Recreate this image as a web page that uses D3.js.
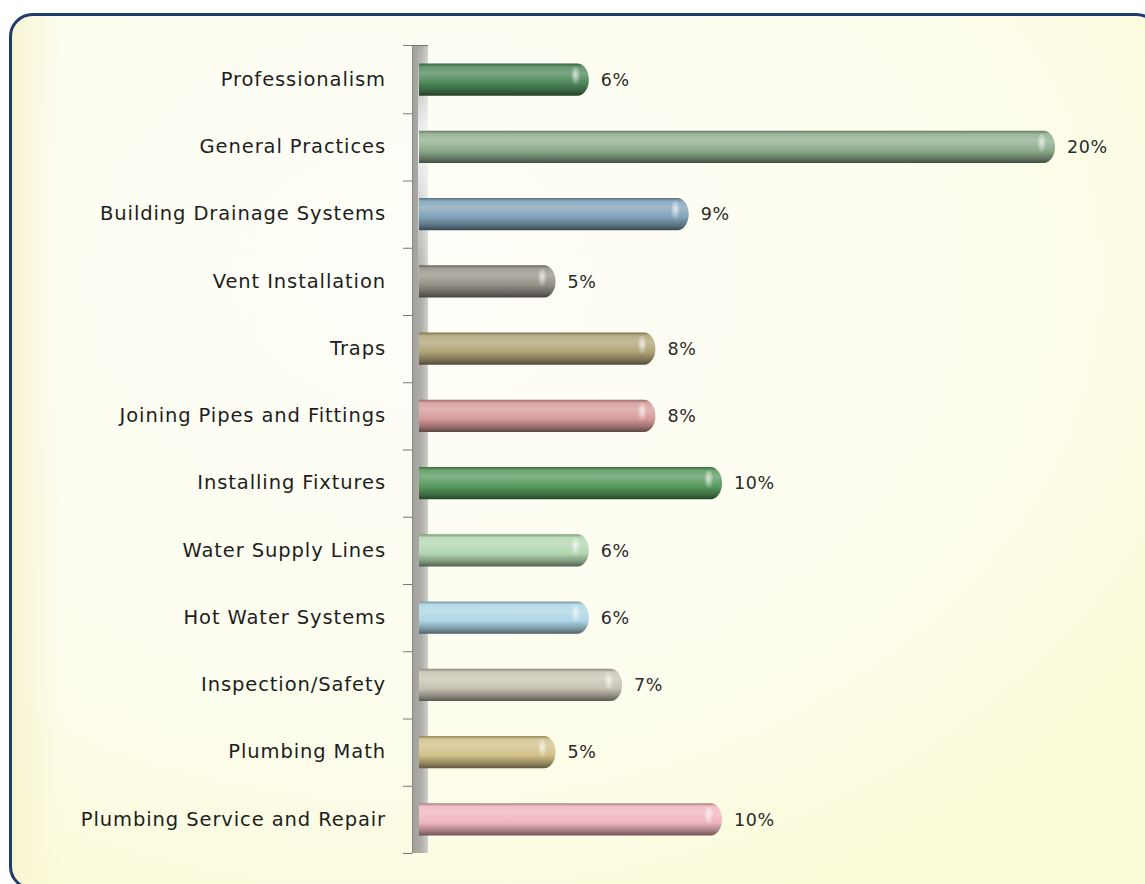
<!DOCTYPE html>
<html><head><meta charset="utf-8">
<script src="https://cdn.jsdelivr.net/npm/d3@7"></script>
<style>html,body{margin:0;padding:0;background:#fff;}svg{display:block;}</style>
</head><body>
<script>
const categories = ["Professionalism","General Practices","Building Drainage Systems","Vent Installation","Traps","Joining Pipes and Fittings","Installing Fixtures","Water Supply Lines","Hot Water Systems","Inspection/Safety","Plumbing Math","Plumbing Service and Repair"];
const values = [6,20,9,5,8,8,10,6,6,7,5,10];
const valueLabels = ["6%","20%","9%","5%","8%","8%","10%","6%","6%","7%","5%","10%"];
const barColors = ["#4f8a5a","#8fae8e","#7fa2b8","#959287","#b0a478","#d69a9a","#589a5e","#b2d6b0","#aed6e6","#c8c4b4","#d2c088","#f0b6be"];

const W = 1145, H = 884;
const svg = d3.select("body").append("svg").attr("width", W).attr("height", H);
const defs = svg.append("defs");

// background
const bg = defs.append("radialGradient").attr("id","bg").attr("cx","0.35").attr("cy","0.3").attr("r","0.85");
bg.append("stop").attr("offset","0").attr("stop-color","#fefef9");
bg.append("stop").attr("offset","0.6").attr("stop-color","#fdfdee");
bg.append("stop").attr("offset","1").attr("stop-color","#fafad4");
const lg = defs.append("linearGradient").attr("id","leftband").attr("x1","0").attr("x2","1");
lg.append("stop").attr("offset","0").attr("stop-color","#f7f4d2").attr("stop-opacity",1);
lg.append("stop").attr("offset","1").attr("stop-color","#f7f4d2").attr("stop-opacity",0);
defs.append("clipPath").attr("id","frameClip").append("rect")
  .attr("x",10.5).attr("y",14.5).attr("width",1148).attr("height",874).attr("rx",22);

svg.append("rect").attr("x",10.5).attr("y",14.5).attr("width",1148).attr("height",874)
  .attr("rx",22).attr("fill","url(#bg)");
svg.append("rect").attr("clip-path","url(#frameClip)").attr("x",10).attr("y",10).attr("width",50).attr("height",880).attr("fill","url(#leftband)");
svg.append("rect").attr("x",10.5).attr("y",14.5).attr("width",1148).attr("height",874)
  .attr("rx",22).attr("fill","none").attr("stroke","#203a6c").attr("stroke-width",3);

// scales
const y = d3.scaleBand().domain(categories).range([46, 853]).paddingInner(0.52).paddingOuter(0.26);
const x = d3.scaleLinear().domain([0.9, 20]).range([419, 1055]);

// axis wall
const wg = defs.append("linearGradient").attr("id","wall").attr("x1","0").attr("x2","1");
wg.append("stop").attr("offset","0").attr("stop-color","#a09e98");
wg.append("stop").attr("offset","0.6").attr("stop-color","#b0aea8");
wg.append("stop").attr("offset","1").attr("stop-color","#cfcfcb");
svg.append("rect").attr("x",412).attr("y",46).attr("width",16).attr("height",807).attr("fill","url(#wall)");
const wh = defs.append("linearGradient").attr("id","wallhi").attr("x1","0").attr("x2","0").attr("y1","0").attr("y2","1");
wh.append("stop").attr("offset","0").attr("stop-color","#ffffff").attr("stop-opacity",0);
wh.append("stop").attr("offset","0.12").attr("stop-color","#ffffff").attr("stop-opacity",0.9);
wh.append("stop").attr("offset","0.3").attr("stop-color","#ffffff").attr("stop-opacity",0);
svg.append("rect").attr("x",418).attr("y",46).attr("width",10).attr("height",807).attr("fill","url(#wallhi)");
svg.append("line").attr("x1",403).attr("x2",428).attr("y1",45.5).attr("y2",45.5).attr("stroke","#777");

// axis ticks & labels via d3 axis
const yAxis = d3.axisLeft(y).tickSize(0).tickPadding(26);
const ag = svg.append("g").attr("transform","translate(412,0)").call(yAxis);
ag.select(".domain").attr("stroke","#8a8a8a").attr("stroke-width",1);
ag.selectAll(".tick text").attr("font-family","'Comic Sans MS','DejaVu Sans',sans-serif")
  .attr("font-size",19.5).attr("letter-spacing","0.9px").attr("fill","#1e1e1e");
// category boundary ticks
const step = y.step();
const bounds = d3.range(1, categories.length + 1).map(i => 46 + i * step);
svg.selectAll("line.bt").data(bounds).join("line").attr("class","bt")
  .attr("x1",403).attr("x2",412).attr("y1",d=>d+0.5).attr("y2",d=>d+0.5).attr("stroke","#777");

// bar gradients
const mix = (a,b,t) => d3.interpolateRgb(a,b)(t);
categories.forEach((c,i) => {
  const base = barColors[i];
  const g = defs.append("linearGradient").attr("id","bar"+i).attr("x1","0").attr("x2","0").attr("y1","0").attr("y2","1");
  g.append("stop").attr("offset","0").attr("stop-color", mix(base,"#000",0.3));
  g.append("stop").attr("offset","0.1").attr("stop-color", mix(base,"#fff",0.12));
  g.append("stop").attr("offset","0.3").attr("stop-color", mix(base,"#fff",0.25));
  g.append("stop").attr("offset","0.6").attr("stop-color", base);
  g.append("stop").attr("offset","0.85").attr("stop-color", mix(base,"#000",0.3));
  g.append("stop").attr("offset","1").attr("stop-color", mix(base,"#000",0.55));
});
const cap = defs.append("radialGradient").attr("id","cap").attr("cx","0.5").attr("cy","0.4").attr("r","0.5");
cap.append("stop").attr("offset","0").attr("stop-color","#fff").attr("stop-opacity",0.7);
cap.append("stop").attr("offset","1").attr("stop-color","#fff").attr("stop-opacity",0);

const data = categories.map((c,i)=>({c, v:values[i], lab:valueLabels[i], i}));
const bw = y.bandwidth();
const r = bw/2, rx = r*0.7;
const bars = svg.append("g");
bars.selectAll("path.bar").data(data).join("path").attr("class","bar")
  .attr("d", d => {
    const x0 = x.range()[0], x1 = x(d.v), y0 = y(d.c);
    return `M${x0},${y0}H${x1-rx}A${rx},${r} 0 0 1 ${x1-rx},${y0+bw}H${x0}Z`;
  })
  .attr("fill", d => "url(#bar"+d.i+")");
bars.selectAll("ellipse.hl").data(data).join("ellipse").attr("class","hl")
  .attr("cx", d => x(d.v) - rx - 2).attr("cy", d => y(d.c) + bw*0.42)
  .attr("rx", 5).attr("ry", bw*0.33).attr("fill","url(#cap)");

svg.append("g").selectAll("text").data(data).join("text")
  .attr("x", d => x(d.v) + 12).attr("y", d => y(d.c) + bw/2)
  .attr("dy","0.36em").attr("font-family","'Comic Sans MS','DejaVu Sans',sans-serif").attr("font-size",17.5)
  .attr("letter-spacing","0.6px").attr("fill","#2a2a2a").text(d => d.lab);
</script>
</body></html>
